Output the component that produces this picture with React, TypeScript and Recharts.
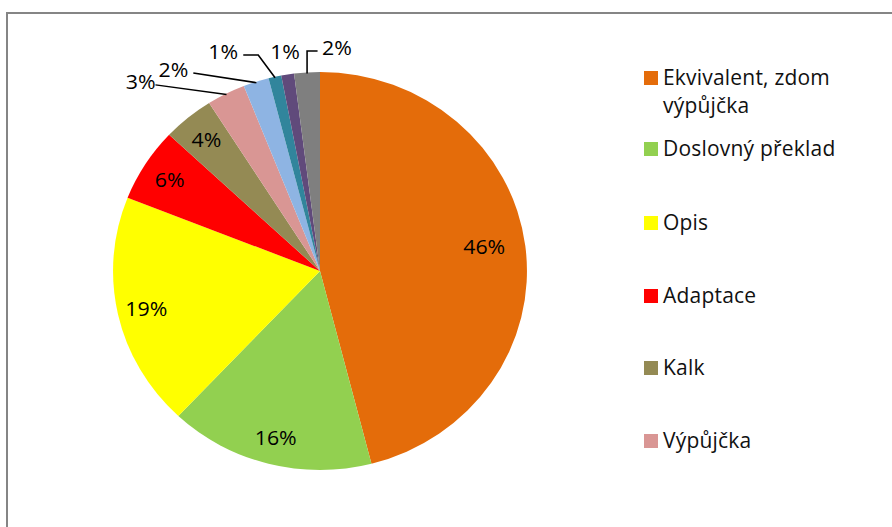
import { PieChart, Pie, Cell } from "recharts"

const categories = [
  "Ekvivalent, zdom výpůjčka",
  "Doslovný překlad",
  "Opis",
  "Adaptace",
  "Kalk",
  "Výpůjčka",
  "Neologismus",
  "Vynechání",
  "Kombinace",
  "Ostatní",
]

const shares = [46, 16, 19, 6, 4, 3, 2, 1, 1, 2]

const colors = [
  "#E46C0A",
  "#92D050",
  "#FFFF00",
  "#FF0000",
  "#948A54",
  "#D99694",
  "#8EB4E3",
  "#31859C",
  "#604A7B",
  "#7F7F7F",
]

// Excel shows only the first six entries in the legend box
const legendCount = 6

const data = categories.map((name, i) => ({ name, value: shares[i] }))

const FONT = "'Open Sans', sans-serif"
const RAD = Math.PI / 180
// the original pie is a bit wider than tall
const STRETCH = 1.04

// Outside labels for the thin slices: offsets from the slice's outer point
const outside: Record<
  number,
  { dx: number; dy: number; end?: [number, number]; elbow?: [number, number] }
> = {
  5: { dx: -82.6, dy: -13.7, end: [-68.3, -9.7] },
  6: { dx: -79.8, dy: -13.7, end: [-60.6, -9.7] },
  7: { dx: -49.9, dy: -26.8, end: [-30.6, -22.8], elbow: [-16.2, -22.8] },
  8: { dx: -2.6, dy: -24.4 },
  9: { dx: 28.8, dy: -26.4, end: [10.1, -22.4], elbow: [0, -22.4] },
}

function renderLabel(props: any) {
  const { cx, cy, midAngle, outerRadius, percent, index } = props
  const text = `${Math.round(percent * 100)}%`
  const cos = Math.cos(-midAngle * RAD)
  const sin = Math.sin(-midAngle * RAD)
  const o = outside[index]

  if (!o) {
    const r = outerRadius * (index === 0 ? 0.8 : 0.86)
    return (
      <text
        x={cx + r * cos}
        y={cy + r * sin - (index === 0 ? 5 : 0)}
        textAnchor="middle"
        dominantBaseline="central"
        fontFamily={FONT}
        fontSize={20.5}
        fill="#000"
      >
        {text}
      </text>
    )
  }

  const ox = cx + (outerRadius - 1) * cos
  const oy = cy + (outerRadius - 1) * sin
  const pts: [number, number][] = [[ox, oy]]
  if (o.elbow) pts.push([ox + o.elbow[0], oy + o.elbow[1]])
  if (o.end) pts.push([ox + o.end[0], oy + o.end[1]])

  return (
    <g>
      {o.end && (
        <polyline
          points={pts.map((p) => p.join(",")).join(" ")}
          fill="none"
          stroke="#000"
          strokeWidth={1.5}
        />
      )}
      <text
        x={ox + o.dx}
        y={oy + o.dy}
        textAnchor="middle"
        dominantBaseline="central"
        fontFamily={FONT}
        fontSize={20.5}
        fill="#000"
      >
        {text}
      </text>
    </g>
  )
}

function LegendBox() {
  const tops = [66, 137, 211, 284, 356, 429]
  return (
    <div style={{ position: "absolute", left: 644, top: 0 }}>
      {categories.slice(0, legendCount).map((name, i) => {
        const lines = i === 0 ? ["Ekvivalent, zdom", "výpůjčka"] : [name]
        return (
          <div
            key={name}
            style={{
              position: "absolute",
              top: tops[i],
              left: 0,
              display: "flex",
              alignItems: "flex-start",
              whiteSpace: "nowrap",
            }}
          >
            <div
              style={{
                width: 14,
                height: 14,
                marginTop: 5,
                marginRight: 5,
                background: colors[i],
              }}
            />
            <div
              style={{
                fontFamily: FONT,
                fontSize: 21,
                lineHeight: "28px",
                letterSpacing: 0.2,
                color: "#111",
                marginTop: -3,
              }}
            >
              {lines.map((l) => (
                <div key={l}>{l}</div>
              ))}
            </div>
          </div>
        )
      })}
    </div>
  )
}

export default function App() {
  return (
    <div
      style={{
        position: "absolute",
        left: 0,
        top: 0,
        width: 892,
        height: 527,
        overflow: "hidden",
        background: "#fff",
      }}
    >
      <div
        style={{
          position: "absolute",
          left: 6,
          top: 12,
          width: 1000,
          height: 1000,
          borderTop: "2px solid #858585",
          borderLeft: "2px solid #858585",
        }}
      />
      <div
        style={{
          position: "absolute",
          left: 0,
          top: 0,
          transform: `scaleX(${STRETCH})`,
          transformOrigin: "320px 0",
        }}
      >
        <PieChart
          width={640}
          height={527}
          margin={{ top: 0, right: 0, bottom: 0, left: 0 }}
        >
          <Pie
            data={data}
            dataKey="value"
            nameKey="name"
            cx={320}
            cy={271}
            outerRadius={199}
            startAngle={90}
            endAngle={-270}
            stroke="none"
            label={renderLabel}
            labelLine={false}
            isAnimationActive={false}
          >
            {data.map((d, i) => (
              <Cell key={d.name} fill={colors[i]} />
            ))}
          </Pie>
        </PieChart>
      </div>
      <LegendBox />
    </div>
  )
}
